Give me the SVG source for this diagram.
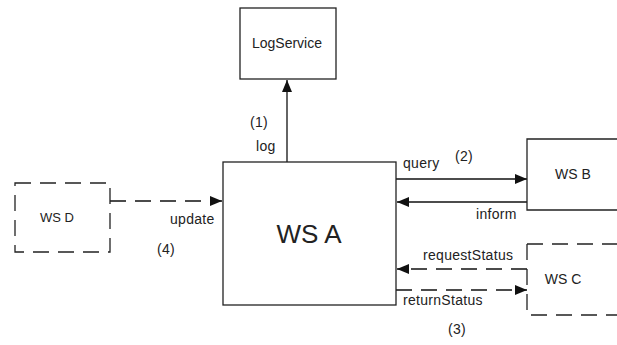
<svg xmlns="http://www.w3.org/2000/svg" width="617" height="345" viewBox="0 0 617 345">
  <style>
    .box { fill: #ffffff; stroke: #222222; stroke-width: 1.3; }
    .dbox { fill: none; stroke: #222222; stroke-width: 1.3; stroke-dasharray: 16 9; }
    .edge { fill: none; stroke: #111111; stroke-width: 1.3; }
    .dedge { fill: none; stroke: #111111; stroke-width: 1.3; stroke-dasharray: 16 9; }
    text { font-family: "Liberation Sans", Arial, sans-serif; fill: #222222; }
    .lbl { font-size: 14px; letter-spacing: 0.3px; }
    .name { font-size: 14px; text-anchor: middle; }
  </style>
  <defs>
    <marker id="arrow" viewBox="0 0 12 10" refX="12" refY="5" markerWidth="12" markerHeight="10" markerUnits="userSpaceOnUse" orient="auto">
      <path d="M0,0 L12,5 L0,10 Z" fill="#111111"/>
    </marker>
  </defs>
  <rect width="617" height="345" fill="#ffffff"/>

  <g id="connectors">
    <path class="edge" d="M287,162 L287,80" marker-end="url(#arrow)"/>
    <path class="edge" d="M396,179 L527,179" marker-end="url(#arrow)"/>
    <path class="edge" d="M527,202 L397,202" marker-end="url(#arrow)"/>
    <path class="dedge" d="M527,269 L397,269" marker-end="url(#arrow)"/>
    <path class="dedge" d="M396,290 L527,290" marker-end="url(#arrow)"/>
    <path class="dedge" d="M110,201 L222,201" marker-end="url(#arrow)"/>
    <text class="lbl" x="250" y="127">(1)</text>
    <text class="lbl" x="256" y="151">log</text>
    <text class="lbl" x="403" y="168">query</text>
    <text class="lbl" x="455" y="161">(2)</text>
    <text class="lbl" x="476" y="219">inform</text>
    <text class="lbl" x="423" y="260">requestStatus</text>
    <text class="lbl" x="403" y="305">returnStatus</text>
    <text class="lbl" x="448" y="334">(3)</text>
    <text class="lbl" x="170" y="224">update</text>
    <text class="lbl" x="157" y="254">(4)</text>
  </g>

  <g id="logservice">
    <rect class="box" x="240" y="8" width="96" height="71"/>
    <text class="name" x="287" y="48">LogService</text>
  </g>

  <g id="wsa">
    <rect class="box" x="223" y="162" width="173" height="143"/>
    <text x="309" y="243" font-size="26" text-anchor="middle">WS A</text>
  </g>

  <g id="wsb">
    <path class="box" d="M617,139 L527,139 L527,210 L617,210"/>
    <text class="name" x="573" y="179">WS B</text>
  </g>

  <g id="wsc">
    <path class="dbox" d="M527,244 L527,315 L617,315 M527,244 L617,244"/>
    <text class="name" x="563" y="284">WS C</text>
  </g>

  <g id="wsd">
    <rect class="dbox" x="15" y="183" width="95" height="69"/>
    <text x="57" y="222" font-size="13" text-anchor="middle">WS D</text>
  </g>
</svg>
